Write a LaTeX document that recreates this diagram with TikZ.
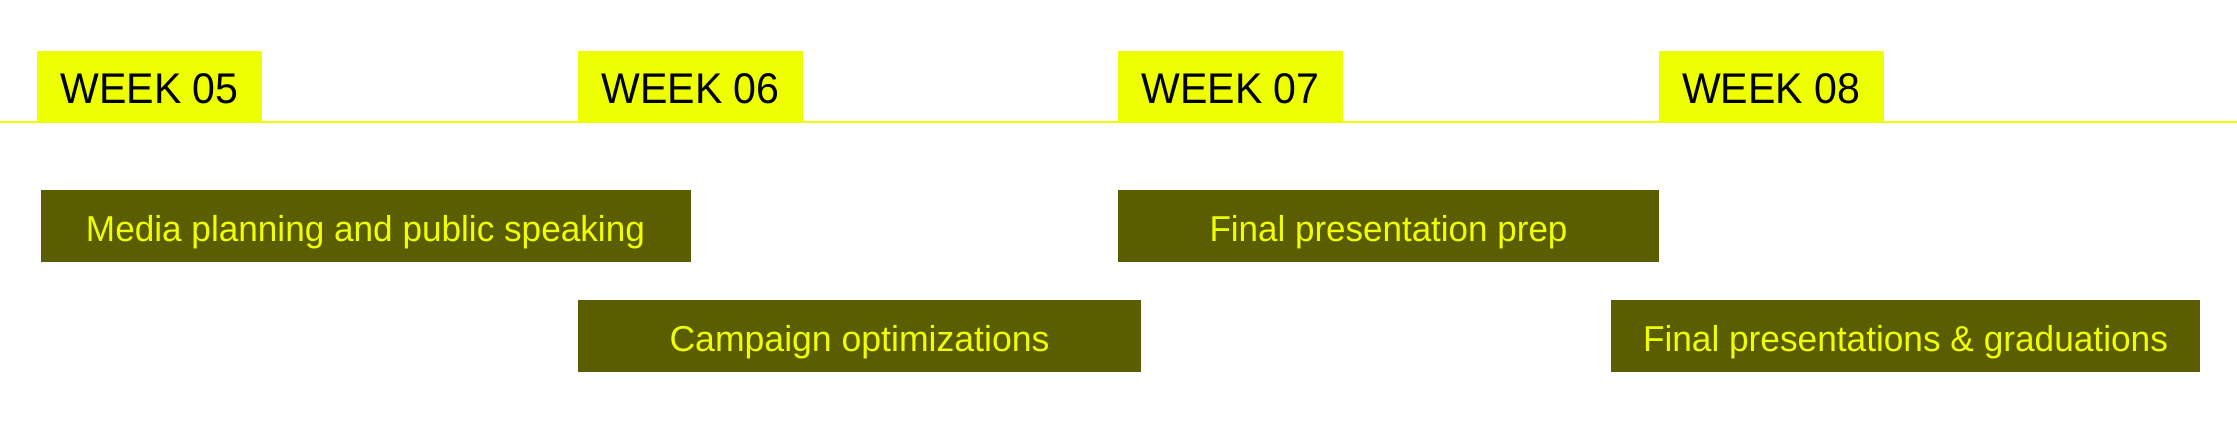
\documentclass[tikz,border=0pt]{standalone}
\usepackage{fontspec}
\setmainfont{Liberation Sans}
\usepackage{graphicx}
\definecolor{hlyellow}{HTML}{EEFF00}
\definecolor{barfill}{HTML}{5B5E00}
\definecolor{bartxt}{HTML}{F0FF00}
\newcommand\wklabel[2]{\resizebox{#1}{\height}{\fontsize{42.9pt}{48pt}\selectfont #2}}
\newcommand\barlabel[2]{\resizebox{#1}{\height}{\fontsize{36pt}{40pt}\selectfont #2}}
\begin{document}
\begin{tikzpicture}[x=1pt,y=-1pt,
  weekbox/.style={fill=hlyellow, draw=none, inner sep=0pt, minimum width=225pt, minimum height=72pt, text=black, text height=32.6pt, text depth=0pt},
  barbox/.style={fill=barfill, draw=none, inner sep=0pt, minimum height=72pt, text=bartxt, text height=30pt, text depth=0pt},
  timeline/.style={draw=hlyellow, line width=2.5pt}
]
\useasboundingbox (0,0) rectangle (2237,432);
\coordinate (tl0) at (0,122);
\coordinate (tl1) at (2237,122);
\draw[timeline] (tl0) -- (tl1);
\node[weekbox] (w5) at (149.5,87) {\wklabel{178pt}{WEEK 05}};
\node[weekbox] (w6) at (690.5,87) {\wklabel{178pt}{WEEK 06}};
\node[weekbox] (w7) at (1230.5,87) {\wklabel{178pt}{WEEK 07}};
\node[weekbox] (w8) at (1771,87) {\wklabel{178pt}{WEEK 08}};
\node[barbox, minimum width=650pt] (b1) at (365.5,226) {\barlabel{559pt}{Media planning and public speaking}};
\node[barbox, minimum width=563pt] (b2) at (859.5,336) {\barlabel{380pt}{Campaign optimizations}};
\node[barbox, minimum width=541pt] (b3) at (1388.5,226) {\barlabel{358pt}{Final presentation prep}};
\node[barbox, minimum width=589pt] (b4) at (1905.5,336) {\barlabel{525pt}{Final presentations \& graduations}};
\end{tikzpicture}
\end{document}
